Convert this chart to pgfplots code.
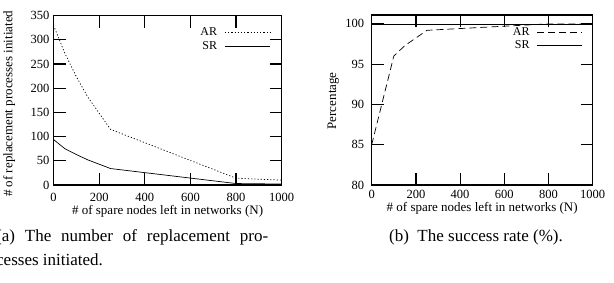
\documentclass[border=0pt]{standalone}
\usepackage{fontspec}
\setmainfont{Liberation Serif}
\usepackage{pgfplots}
\pgfplotsset{compat=1.18}
\pgfplotsset{
  gp/.style={
    scale only axis,
    axis line style={line width=1.2pt},
    every tick/.style={line width=1.2pt, black},
    major tick length=12pt,
    tick align=inside,
    xmin=0, xmax=1000,
    xtick={0,200,...,1000},
    tick label style={font=\fontsize{12.5}{14}\selectfont},
    label style={font=\fontsize{13}{15}\selectfont},
    /pgf/number format/assume math mode=true,
    /pgf/number format/set thousands separator={},
    scaled ticks=false,
    legend plot pos=right,
    legend cell align=right,
    legend style={draw=none, fill=none, inner sep=0pt, outer sep=0pt,
      font=\fontsize{12}{14}\selectfont, row sep=1pt,
      nodes={inner sep=1.5pt},
      /tikz/every odd column/.append style={column sep=6pt}},
    legend image code/.code={\draw[##1] (0pt,0pt) -- (45pt,0pt);},
  }
}
\begin{document}
\begin{tikzpicture}
\path[use as bounding box, clip] (0pt,0pt) rectangle (614pt,283pt);
% (a)
\begin{axis}[gp,
  at={(53.5pt,98pt)}, anchor=south west,
  width=228.2pt, height=169.3pt,
  ymin=0, ymax=350, ytick={0,50,...,350},
  yticklabel style={xshift=-0.5pt},
  xticklabel style={yshift=-5pt},
  xlabel={\# of spare nodes left in networks (N)},
  xlabel style={at={(axis description cs:0.5,0)}, anchor=base, yshift=-30pt},
  ylabel={\# of replacement processes initiated},
  ylabel style={at={(axis description cs:-0.18,0.48)}, anchor=base},
  legend style={at={(axis description cs:0.95,0.937)}, anchor=north east},
]
\addplot[black, line width=0.7pt, dash pattern=on 1.2pt off 2pt]
  coordinates {(0,330)(50,272)(100,224)(150,182)(250,115)(800,14)(1000,10)};
\addlegendentry{AR}
\addplot[black, line width=0.7pt]
  coordinates {(0,94)(50,75)(100,63)(150,52)(250,34)(800,3)(1000,2)};
\addlegendentry{SR}
\end{axis}
% (b)
\begin{axis}[gp,
  at={(371.7pt,98pt)}, anchor=south west,
  width=221pt, height=170pt,
  ymin=80, ymax=101.1, ytick={80,85,...,100},
  yticklabel style={xshift=-4pt},
  xticklabel style={yshift=-2pt},
  xlabel={\# of spare nodes left in networks (N)},
  xlabel style={at={(axis description cs:0.5,0)}, anchor=base, yshift=-27pt},
  ylabel={Percentage},
  ylabel style={at={(axis description cs:-0.1615,0.495)}, anchor=base},
  legend style={at={(axis description cs:0.955,0.937)}, anchor=north east},
]
\addplot[black, line width=0.7pt, dash pattern=on 7pt off 4pt]
  coordinates {(0,85)(100,96)(150,97.3)(250,99.2)(800,100)(1000,100)};
\addlegendentry{AR}
\addplot[black, line width=0.7pt]
  coordinates {(0,100)(1000,100)};
\addlegendentry{SR}
\end{axis}
% captions
\node[anchor=base west, inner sep=0pt, font=\fontsize{17}{20}\selectfont]
  at (-4pt,41pt) {\hbox to 272pt{(a) The number of replacement pro-}};
\node[anchor=base west, inner sep=0pt, font=\fontsize{17}{20}\selectfont]
  at (-4pt,17pt) {cesses initiated.};
\node[anchor=base, inner sep=0pt, font=\fontsize{17}{20}\selectfont]
  at (476pt,41pt) {(b)\enspace The success rate ($\%$).};
\end{tikzpicture}
\end{document}
